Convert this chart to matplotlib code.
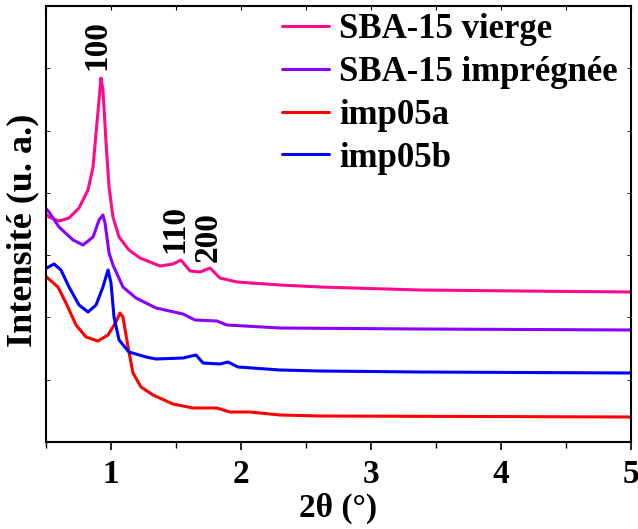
import numpy as np
import matplotlib
matplotlib.use("Agg")
import matplotlib.pyplot as plt
from matplotlib.ticker import MultipleLocator, NullFormatter

plt.rcParams['font.family'] = ['Liberation Serif', 'DejaVu Serif']
plt.rcParams['font.weight'] = 'bold'

# 2theta (deg) and intensity (a.u.)
x_vierge = [0.505, 0.523, 0.600, 0.677, 0.754, 0.823, 0.862, 0.885, 0.908, 0.923, 0.938,
            0.962, 0.985, 1.015, 1.062, 1.138, 1.223, 1.377, 1.477, 1.538, 1.608, 1.685,
            1.762, 1.838, 1.969, 2.3, 2.608, 3.377, 4.146, 5.0]
y_vierge = [227, 225, 221, 224, 234, 252, 275, 309, 342, 364, 352,
            299, 255, 225, 205, 192, 184, 176, 178, 182, 171, 170,
            174, 164, 160, 157, 155, 152, 151, 150]

x_impreg = [0.505, 0.523, 0.600, 0.708, 0.785, 0.862, 0.908, 0.938, 0.954, 0.985, 1.015,
            1.092, 1.192, 1.346, 1.554, 1.646, 1.815, 1.892, 2.3, 3.377, 5.0]
y_impreg = [233, 230, 215, 202, 197, 205, 222, 227, 219, 189, 177,
            155, 144, 134, 128, 122, 121, 117, 114, 113, 112]

x_imp05a = [0.505, 0.592, 0.654, 0.731, 0.808, 0.900, 0.977, 1.038, 1.069, 1.092, 1.131,
            1.169, 1.231, 1.323, 1.477, 1.631, 1.815, 1.915, 2.069, 2.3, 2.608, 5.0]
y_imp05a = [165, 155, 139, 117, 105, 101, 107, 120, 129, 125, 95,
            69, 55, 47, 38, 34, 34, 30, 30, 27, 26, 25]

x_imp05b = [0.505, 0.562, 0.615, 0.677, 0.754, 0.823, 0.885, 0.938, 0.977, 1.0, 1.023,
            1.062, 1.138, 1.269, 1.346, 1.554, 1.654, 1.708, 1.838, 1.9, 1.977, 2.3,
            2.608, 3.377, 5.0]
y_imp05b = [174, 178, 172, 155, 137, 130, 137, 155, 172, 159, 125,
            102, 90, 85, 83, 84, 87, 79, 78, 80, 75, 72,
            71, 70, 69]

labels = ['SBA-15 vierge', 'SBA-15 imprégnée', 'imp05a', 'imp05b']
colors = ['#ff0a8c', '#8a00ff', '#ff0000', '#0000ff']

fig = plt.figure(figsize=(6.38, 5.29), dpi=100)
ax = fig.add_axes([46/638, 1 - 442/529, 585/638, 436/529])

series = [(x_vierge, y_vierge), (x_impreg, y_impreg), (x_imp05a, y_imp05a), (x_imp05b, y_imp05b)]
for (xs, ys), lab, c in zip(series, labels, colors):
    ax.plot(xs, ys, color=c, lw=2.2, label=lab, solid_joinstyle='round',
            solid_capstyle='round')

ax.set_xlim(0.5, 5)
ax.set_ylim(0, 436)
ax.xaxis.set_major_locator(MultipleLocator(1))
ax.xaxis.set_minor_locator(MultipleLocator(0.5))
ax.yaxis.set_major_locator(MultipleLocator(62.3))
ax.yaxis.set_major_formatter(NullFormatter())
ax.tick_params(axis='x', which='major', direction='out', length=6, width=1.2,
               labelsize=24, pad=6, top=False)
ax.tick_params(axis='x', which='minor', direction='out', length=4, width=1.0, top=False)
ax.tick_params(axis='y', which='major', direction='in', length=3, width=0.6,
               left=True, right=True)
for lab in ax.get_xticklabels():
    lab.set_fontweight('bold')
for s in ax.spines.values():
    s.set_linewidth(1.5)

# inward ticks on top spine
sec = ax.secondary_xaxis('top')
sec.xaxis.set_major_locator(MultipleLocator(0.5))
sec.tick_params(direction='in', length=3, width=0.8, labeltop=False)
sec.spines['top'].set_visible(False)

ax.set_xlabel('2θ (°)', fontsize=24, fontweight='bold', labelpad=2)
ax.set_ylabel('Intensité (u. a.)', fontsize=26, fontweight='bold')
ax.yaxis.set_label_coords(-0.012, 0.485)

ax.text(0.89, 372, '100', rotation=90, ha='center', va='bottom', fontsize=24, fontweight='bold')
ax.text(1.49, 189, '110', rotation=90, ha='center', va='bottom', fontsize=24, fontweight='bold')
ax.text(1.75, 180, '200', rotation=90, ha='center', va='bottom', fontsize=24, fontweight='bold')

leg = ax.legend(loc='upper left', bbox_to_anchor=(0.38, 1.015), frameon=False,
                prop={'family': 'Liberation Serif', 'weight': 'bold', 'size': 25},
                handlelength=1.35, handletextpad=0.3, labelspacing=0.28, borderaxespad=0)

fig.savefig('out.png', dpi=100)
